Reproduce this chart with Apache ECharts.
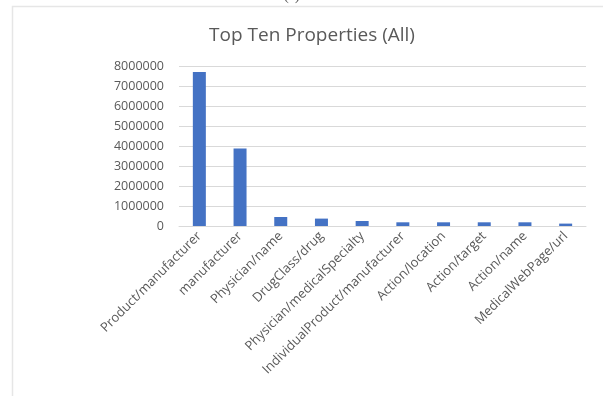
<!DOCTYPE html>
<html>
<head>
<meta charset="utf-8">
<script src="https://cdn.jsdelivr.net/npm/echarts@6/dist/echarts.min.js"></script>
<style>
  html, body { margin: 0; padding: 0; background: #fff; }
  #chart { width: 603px; height: 396px; }
</style>
</head>
<body>
<div id="chart"></div>
<script>
// 图表数据
var categories = [
  "Product/manufacturer", "manufacturer", "Physician/name", "DrugClass/drug",
  "Physician/medicalSpecialty", "IndividualProduct/manufacturer",
  "Action/location", "Action/target", "Action/name", "MedicalWebPage/url"
];
var counts = [7700000, 3870000, 450000, 370000, 250000, 185000, 185000, 185000, 185000, 120000];

var textColor = "#595959";
var chart = echarts.init(document.getElementById("chart"));

chart.setOption({
  animation: false,
  title: {
    text: "Top Ten Properties (All)",
    left: 307,
    top: 21,
    textAlign: "center",
    textStyle: { fontFamily: "Open Sans", fontSize: 19, fontWeight: "normal", color: textColor }
  },
  graphic: [
    {
      // 外框
      type: "rect",
      shape: { x: 12.5, y: 6.5, width: 600, height: 400 },
      style: { fill: "none", stroke: "#e6e6e6", lineWidth: 1.5 }
    },
    {
      type: "text",
      left: 284,
      top: -11,
      style: { text: "(c)", fontSize: 14, fill: "#555", fontFamily: "Liberation Serif" }
    }
  ],
  grid: { left: 179, right: 17, top: 66, bottom: 170 },
  xAxis: {
    type: "category",
    data: categories,
    axisLine: { lineStyle: { color: "#d9d9d9" } },
    axisTick: { show: false },
    axisLabel: {
      rotate: 45,
      interval: 0,
      margin: 8,
      color: textColor,
      fontFamily: "Open Sans",
      fontSize: 13
    }
  },
  yAxis: {
    type: "value",
    min: 0,
    max: 8000000,
    interval: 1000000,
    axisLine: { show: false },
    axisTick: { show: false },
    splitLine: { lineStyle: { color: "#d9d9d9" } },
    axisLabel: {
      color: textColor,
      fontFamily: "Open Sans",
      fontSize: 12.5,
      margin: 15,
      formatter: function (v) { return String(v); }
    }
  },
  series: [{
    type: "bar",
    data: counts,
    barWidth: 13,
    itemStyle: { color: "#4472C4" }
  }]
});
</script>
</body>
</html>
